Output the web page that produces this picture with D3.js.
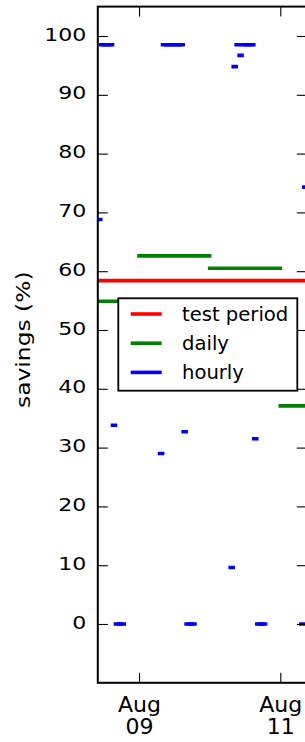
<!DOCTYPE html>
<html lang="en">
<head>
<meta charset="UTF-8">
<title>Savings</title>
<script src="https://d3js.org/d3.v7.min.js"></script>
<style>
  body { margin: 0; background: #fff; }
  text { font-family: "DejaVu Sans", sans-serif; fill: #000; }
</style>
</head>
<body>
<svg id="chart" width="305" height="742"></svg>
<script>
const testPeriod = 58.4;

const days = ["2015-08-08", "2015-08-09", "2015-08-10", "2015-08-11"];
const dailySavings = [54.9, 62.6, 60.5, 37.1];

const hours = [
    "2015-08-08 10:00", "2015-08-08 11:00", "2015-08-08 12:00", "2015-08-08 13:00",
    "2015-08-08 14:00", "2015-08-08 15:00", "2015-08-08 16:00", "2015-08-08 17:00",
    "2015-08-08 18:00",
    "2015-08-09 07:00", "2015-08-09 08:00", "2015-08-09 09:00", "2015-08-09 10:00",
    "2015-08-09 11:00", "2015-08-09 12:00", "2015-08-09 13:00", "2015-08-09 14:00",
    "2015-08-09 15:00", "2015-08-09 16:00", "2015-08-09 17:00", "2015-08-09 18:00",
    "2015-08-10 07:00", "2015-08-10 08:00", "2015-08-10 09:00", "2015-08-10 10:00",
    "2015-08-10 11:00", "2015-08-10 12:00", "2015-08-10 13:00", "2015-08-10 14:00",
    "2015-08-10 15:00", "2015-08-10 16:00", "2015-08-10 17:00", "2015-08-10 18:00",
    "2015-08-11 07:00", "2015-08-11 08:00"
];
const hourlySavings = [
    68.8, 98.5, 98.5, 98.5,
    98.5, 33.8, 0, 0,
    0,
    29.0, 98.5, 98.5, 98.5,
    98.5, 98.5, 98.5, 98.5,
    32.7, 0, 0, 0,
    9.6, 94.8, 98.5, 96.7,
    98.5, 98.5, 98.5, 98.5,
    31.5, 0, 0, 0,
    0, 74.3
];

const yTicks = [0, 10, 20, 30, 40, 50, 60, 70, 80, 90, 100];
const xTicks = ["2015-08-09", "2015-08-11"];
const xStart = "2015-08-08 10:00";
const xEnd = "2015-08-11 09:00";

const legendNames = ["test period", "daily", "hourly"];
const legendColors = ["#ff0000", "#008000", "#0000ff"];

const parseDay = d3.timeParse("%Y-%m-%d");
const parseHour = d3.timeParse("%Y-%m-%d %H:%M");

const svg = d3.select("#chart");
const margin = {top: 6.6, left: 97.8};
const width = 209;
const height = 676.2;

const g = svg.append("g")
    .attr("transform", `translate(${margin.left},${margin.top})`);

const x = d3.scaleTime()
    .domain([parseHour(xStart), parseHour(xEnd)])
    .range([0, width]);

const y = d3.scaleLinear()
    .domain([-10, 105])
    .range([height, 0]);

g.append("clipPath").attr("id", "plotClip")
    .append("rect")
    .attr("width", width)
    .attr("height", height);

const plot = g.append("g").attr("clip-path", "url(#plotClip)");

// test period
plot.append("line")
    .attr("x1", x.range()[0])
    .attr("x2", x.range()[1])
    .attr("y1", y(testPeriod))
    .attr("y2", y(testPeriod))
    .attr("stroke", legendColors[0])
    .attr("stroke-width", 3.6);

// daily
plot.selectAll(".daily")
    .data(days.map((d, i) => ({t: parseDay(d), v: dailySavings[i]})))
    .enter()
    .append("line")
        .attr("x1", d => x(d.t))
        .attr("x2", d => x(d3.timeDay.offset(d.t, 1)))
        .attr("y1", d => y(d.v))
        .attr("y2", d => y(d.v))
        .attr("stroke", legendColors[1])
        .attr("stroke-width", 3.6)
        .attr("stroke-linecap", "square");

// hourly
plot.selectAll(".hourly")
    .data(hours.map((d, i) => ({t: parseHour(d), v: hourlySavings[i]})))
    .enter()
    .append("line")
        .attr("x1", d => x(d.t))
        .attr("x2", d => x(d3.timeHour.offset(d.t, 1)))
        .attr("y1", d => y(d.v))
        .attr("y2", d => y(d.v))
        .attr("stroke", legendColors[2])
        .attr("stroke-width", 3.6)
        .attr("stroke-linecap", "square");

// axes, ticks pointing inward
const yAxis = g.append("g")
    .call(d3.axisLeft(y).tickValues(yTicks).tickSize(-10).tickPadding(0));
yAxis.select(".domain").remove();
yAxis.selectAll("text")
    .attr("x", 0)
    .attr("dy", null)
    .attr("font-size", 17.4)
    .attr("font-family", "DejaVu Sans")
    .attr("transform", "translate(-11.5,4) scale(1.27,1)");

const yAxisRight = g.append("g")
    .attr("transform", `translate(${width},0)`)
    .call(d3.axisRight(y).tickValues(yTicks).tickSize(-10).tickFormat(""));
yAxisRight.select(".domain").remove();

const xTickDates = xTicks.map(parseDay);
const xAxis = g.append("g")
    .attr("transform", `translate(0,${height})`)
    .call(d3.axisBottom(x).tickValues(xTickDates).tickSize(-10).tickFormat(""));
xAxis.select(".domain").remove();
xAxis.selectAll(".tick text").remove();
xAxis.selectAll(".tick").each(function(d) {
    const t = d3.select(this).append("text")
        .attr("text-anchor", "middle")
        .attr("font-size", 22)
        .attr("font-family", "DejaVu Sans")
        .attr("fill", "#000");
    t.append("tspan").attr("x", 0).attr("y", 28.9).text(d3.timeFormat("%b")(d));
    t.append("tspan").attr("x", 0).attr("y", 51.5).text(d3.timeFormat("%d")(d));
});

const xAxisTop = g.append("g")
    .call(d3.axisTop(x).tickValues(xTickDates).tickSize(-10).tickFormat(""));
xAxisTop.select(".domain").remove();

g.selectAll(".tick line").attr("stroke", "#000").attr("stroke-width", 1.1);

// frame
g.append("rect")
    .attr("width", width)
    .attr("height", height)
    .attr("fill", "none")
    .attr("stroke", "#000")
    .attr("stroke-width", 2);

// y label
svg.append("text")
    .attr("transform", "translate(29.8,339.7) rotate(-90) scale(1.2,1)")
    .attr("text-anchor", "middle")
    .attr("font-size", 19.5)
    .text("savings (%)");

// legend
const legend = svg.append("g").attr("transform", "translate(118.3,298.3)");
legend.append("rect")
    .attr("width", 179)
    .attr("height", 92.4)
    .attr("fill", "#fff")
    .attr("stroke", "#000")
    .attr("stroke-width", 1.8);

const items = legend.selectAll(".item")
    .data(legendNames)
    .enter()
    .append("g")
        .attr("transform", (d, i) => `translate(0,${15.7 + i * 29.2})`);
items.append("line")
    .attr("x1", 12.4)
    .attr("x2", 43.4)
    .attr("stroke", (d, i) => legendColors[i])
    .attr("stroke-width", 3.6);
items.append("text")
    .attr("x", 63.7)
    .attr("dy", "0.34em")
    .attr("font-size", 19.6)
    .text(d => d);
</script>
</body>
</html>
